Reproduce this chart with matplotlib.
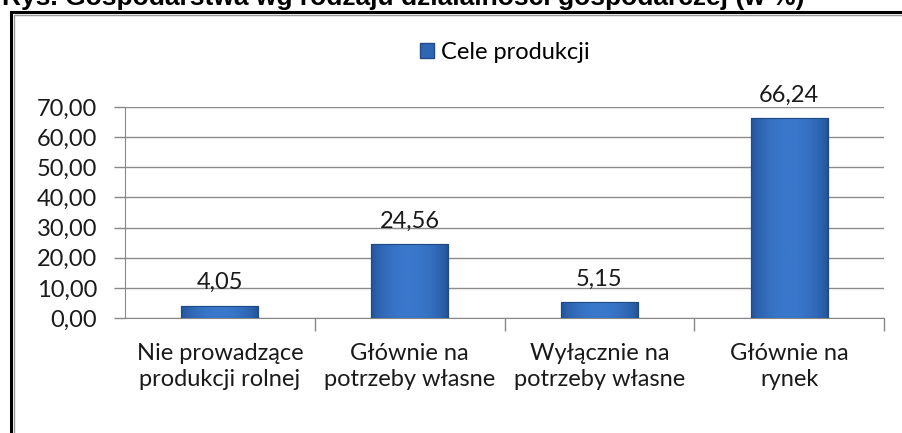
import matplotlib.pyplot as plt
import numpy as np
from matplotlib.patches import Rectangle
from matplotlib.colors import LinearSegmentedColormap

kategorie = ["Nie prowadzące\nprodukcji rolnej", "Głównie na\npotrzeby własne",
             "Wyłącznie na\npotrzeby własne", "Głównie na\nrynek"]
wartosci = [4.05, 24.56, 5.15, 66.24]
etykiety = ["4,05", "24,56", "5,15", "66,24"]
yticks = [0, 10, 20, 30, 40, 50, 60, 70]

plt.rcParams['font.family'] = ['Lato', 'DejaVu Sans']

fig = plt.figure(figsize=(9.02, 4.33), dpi=100)

# cropped title at the very top (cut off like in the source)
fig.text(805/902, 1 - 5/433, "Rys. Gospodarstwa wg rodzaju działalności gospodarczej (w %)",
         ha='right', va='baseline', fontsize=19, fontweight='bold', family='Liberation Sans')

# chart frame (right and bottom edges are off-image)
fig.patches.append(Rectangle((11/902, -0.1), 1.0, 1 - 12/433 + 0.1, transform=fig.transFigure,
                             fill=False, edgecolor='black', linewidth=2.2))
fig.patches.append(Rectangle((13.5/902, -0.1), 1.0, 1 - 14.5/433 + 0.1, transform=fig.transFigure,
                             fill=False, edgecolor='#9a9a9a', linewidth=1))

ax = fig.add_axes([125/902, 1 - 318/433, (884 - 125)/902, (318 - 107)/433])
x = np.arange(len(kategorie))
bars = ax.bar(x, wartosci, width=0.405, color='#2f66b3', edgecolor='#1f4a85', linewidth=0.8,
              label='Cele produkcji', zorder=3)

# gradient shading on the bars
grad = np.linspace(0, 1, 256)
grad = np.vstack([np.sin(grad * np.pi) ** 0.6] * 2)
cmap = LinearSegmentedColormap.from_list('b', ['#214f92', '#3a78cc'])
for b in bars:
    x0, y0 = b.get_x(), b.get_y()
    w, h = b.get_width(), b.get_height()
    im = ax.imshow(grad, extent=[x0, x0 + w, y0, y0 + h], aspect='auto', cmap=cmap, zorder=3.5)
    im.set_clip_path(b)
    ax.add_patch(Rectangle((x0, y0), w, h, fill=False, edgecolor='#1f4a85', linewidth=0.8, zorder=4))

for xi, v, t in zip(x, wartosci, etykiety):
    ax.annotate(t, (xi, v), xytext=(0, 9), textcoords='offset points', ha='center', va='bottom',
                fontsize=17, color='#1a1a1a')

ax.set_xlim(-0.5, 3.5)
ax.set_ylim(0, 70)
ax.set_yticks(yticks)
ax.set_yticklabels([f"{v:.2f}".replace('.', ',') for v in yticks], fontsize=17, color='#1a1a1a')
ax.set_xticks(x)
ax.set_xticklabels(kategorie, fontsize=17, color='#1a1a1a', linespacing=1.3)
ax.tick_params(axis='x', length=0, pad=18)
ax.set_xticks([0.5, 1.5, 2.5, 3.5], minor=True)
ax.tick_params(axis='x', which='minor', length=9, color='#888888', width=1)
ax.tick_params(axis='y', length=8, color='#888888', width=1, pad=12)
ax.grid(axis='y', color='#8c8c8c', linewidth=1, zorder=0)
ax.set_axisbelow(True)
for s in ['top', 'right']:
    ax.spines[s].set_visible(False)
ax.spines['left'].set_color('#888888')
ax.spines['bottom'].set_color('#888888')

leg = ax.legend(handles=[Rectangle((0, 0), 1, 1, facecolor='#2f66b3', edgecolor='#1f4a85')],
                labels=['Cele produkcji'], loc='center', bbox_to_anchor=(0.5, 1.26), frameon=False,
                fontsize=17, handlelength=0.6, handleheight=0.6, handletextpad=0.3)

fig.savefig('out.png', dpi=100)
